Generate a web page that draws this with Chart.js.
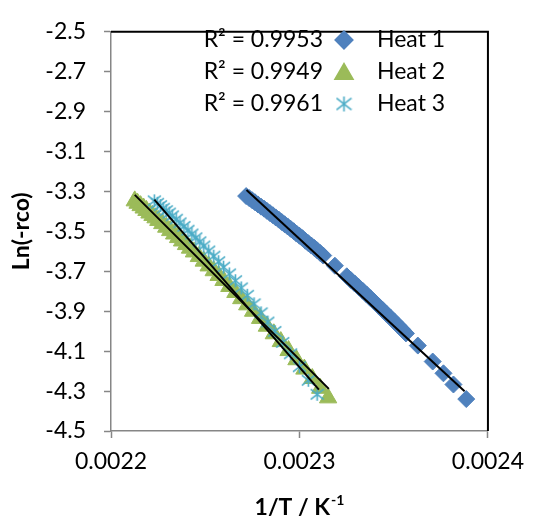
<!DOCTYPE html>
<html><head><meta charset="utf-8">
<script src="https://cdn.jsdelivr.net/npm/chart.js@4/dist/chart.umd.min.js"></script>
<style>html,body{margin:0;padding:0;background:#fff;}#wrap{width:534px;height:525px;}</style>
</head><body><div id="wrap"><canvas id="c" width="534" height="525"></canvas></div>
<script>
const seriesNames = ['Heat 1', 'Heat 2', 'Heat 3'];
const r2Labels = ['R\u00B2 = 0.9953', 'R\u00B2 = 0.9949', 'R\u00B2 = 0.9961'];
const seriesColors = ['#4F81BD', '#9BBB59', '#4BACC6'];
const xTitle = '1/T / K';
const xTitleSup = '-1';
const yTitle = 'Ln(-rco)';
const xTicks = [0.0022, 0.0023, 0.0024];
const yTicks = [-2.5, -2.7, -2.9, -3.1, -3.3, -3.5, -3.7, -3.9, -4.1, -4.3, -4.5];

const heat1X = [0.0022717,0.0022733,0.0022749,0.0022764,0.0022780,0.0022796,0.0022812,0.0022827,0.0022843,0.0022859,
  0.0022874,0.0022890,0.0022906,0.0022921,0.0022937,0.0022953,0.0022969,0.0022984,0.0023000,0.0023016,
  0.0023031,0.0023047,0.0023063,0.0023079,0.0023094,0.0023110,0.0023126,0.0023188,0.0023251,0.0023272,
  0.0023293,0.0023314,0.0023335,0.0023356,0.0023377,0.0023398,0.0023419,0.0023440,0.0023461,0.0023482,
  0.0023503,0.0023524,0.0023545,0.0023565,0.0023628,0.0023707,0.0023764,0.0023817,0.0023885];
const heat1Y = [-3.323,-3.333,-3.344,-3.354,-3.365,-3.376,-3.386,-3.397,-3.408,-3.419,
  -3.430,-3.441,-3.453,-3.464,-3.475,-3.487,-3.499,-3.511,-3.522,-3.534,
  -3.547,-3.559,-3.571,-3.583,-3.595,-3.608,-3.621,-3.672,-3.725,-3.743,
  -3.761,-3.779,-3.797,-3.816,-3.835,-3.854,-3.873,-3.892,-3.912,-3.931,
  -3.951,-3.971,-3.991,-4.011,-4.072,-4.152,-4.211,-4.267,-4.340];

const heat2X = [0.0022126,0.0022141,0.0022157,0.0022173,0.0022188,0.0022204,0.0022220,0.0022236,0.0022251,0.0022272,
  0.0022293,0.0022314,0.0022335,0.0022356,0.0022377,0.0022398,0.0022419,0.0022440,0.0022466,0.0022492,
  0.0022518,0.0022545,0.0022571,0.0022597,0.0022628,0.0022660,0.0022691,0.0022723,0.0022754,0.0022791,
  0.0022827,0.0022864,0.0022901,0.0022942,0.0022984,0.0023026,0.0023068,0.0023110,0.0023152];
const heat2Y = [-3.347,-3.359,-3.371,-3.383,-3.395,-3.408,-3.420,-3.432,-3.445,-3.461,
  -3.479,-3.496,-3.513,-3.531,-3.548,-3.566,-3.584,-3.603,-3.626,-3.649,
  -3.673,-3.697,-3.721,-3.746,-3.776,-3.806,-3.837,-3.868,-3.900,-3.936,
  -3.975,-4.013,-4.052,-4.097,-4.143,-4.190,-4.237,-4.286,-4.334];

const heat3X = [0.0022230,0.0022246,0.0022262,0.0022277,0.0022293,0.0022309,0.0022325,0.0022346,0.0022366,0.0022387,
  0.0022408,0.0022429,0.0022450,0.0022471,0.0022492,0.0022518,0.0022545,0.0022571,0.0022597,0.0022628,
  0.0022660,0.0022691,0.0022723,0.0022759,0.0022796,0.0022832,0.0022869,0.0022911,0.0022953,0.0023000,
  0.0023047,0.0023094];
const heat3Y = [-3.347,-3.359,-3.371,-3.384,-3.396,-3.408,-3.422,-3.439,-3.457,-3.475,
  -3.494,-3.513,-3.532,-3.552,-3.573,-3.598,-3.624,-3.652,-3.679,-3.713,
  -3.747,-3.783,-3.820,-3.863,-3.908,-3.954,-4.001,-4.056,-4.113,-4.178,
  -4.246,-4.316];

const trend1X = [0.0022719, 0.0023876]; const trend1Y = [-3.293, -4.301];
const trend2X = [0.0022126, 0.0023156]; const trend2Y = [-3.317, -4.289];
const trend3X = [0.0022230, 0.0023103]; const trend3Y = [-3.341, -4.293];

const FONT = 'Lato, "Open Sans", sans-serif';
const pts = (xs, ys) => xs.map((x, i) => ({x: x, y: ys[i]}));

function makeStar(color, size) {
  const c = document.createElement('canvas');
  c.width = size; c.height = size;
  const g = c.getContext('2d');
  g.strokeStyle = color; g.lineWidth = 1.6; g.lineCap = 'butt';
  const h = size / 2, r = size / 2 - 1;
  g.beginPath();
  g.moveTo(h, h - r); g.lineTo(h, h + r);
  g.moveTo(h - r, h - r * 0.78); g.lineTo(h + r, h + r * 0.78);
  g.moveTo(h + r, h - r * 0.78); g.lineTo(h - r, h + r * 0.78);
  g.stroke();
  return c;
}
const starImg = makeStar(seriesColors[2], 15);
const starLegend = makeStar(seriesColors[2], 17);
const markerStyles = [
  {pointStyle: 'rectRot', radius: 8.5},
  {pointStyle: 'triangle', radius: 10},
  {pointStyle: starImg, radius: 7}
];
const legendStyles = ['rectRot', 'triangle', starLegend];

const framePlugin = {
  id: 'frame',
  afterDraw(chart) {
    const ctx = chart.ctx, a = chart.chartArea;
    ctx.save();
    ctx.strokeStyle = '#000'; ctx.lineWidth = 2;
    ctx.beginPath();
    ctx.moveTo(a.left, a.top); ctx.lineTo(a.right, a.top); ctx.lineTo(a.right, a.bottom);
    ctx.stroke();
    ctx.font = '23px ' + FONT; ctx.fillStyle = '#000'; ctx.textBaseline = 'middle';
    const rows = [40, 72, 104];
    for (let i = 0; i < 3; i++) {
      const y = rows[i];
      ctx.textAlign = 'right';
      ctx.fillText(r2Labels[i], 323, y);
      ctx.fillStyle = seriesColors[i]; ctx.strokeStyle = seriesColors[i];
      Chart.helpers.drawPoint(ctx, {pointStyle: legendStyles[i], radius: markerStyles[i].radius, rotation: 0, borderWidth: 1}, 344, y + (i === 1 ? 2 : 0));
      ctx.fillStyle = '#000';
      ctx.textAlign = 'left';
      ctx.fillText(seriesNames[i], 377, y);
    }
    ctx.font = 'bold 23px ' + FONT;
    const w1 = ctx.measureText(xTitle).width;
    ctx.font = 'bold 14px ' + FONT;
    const w2 = ctx.measureText(xTitleSup).width;
    const cx = (a.left + a.right) / 2;
    const x0 = cx - (w1 + w2 + 1) / 2;
    ctx.textAlign = 'left'; ctx.textBaseline = 'alphabetic';
    ctx.font = 'bold 23px ' + FONT;
    ctx.fillText(xTitle, x0, 515);
    ctx.font = 'bold 14px ' + FONT;
    ctx.fillText(xTitleSup, x0 + w1 + 1, 505);
    ctx.restore();
  }
};

const scatterDs = (i, xs, ys, order) => ({
  label: seriesNames[i], data: pts(xs, ys), showLine: false,
  backgroundColor: seriesColors[i], borderColor: seriesColors[i], borderWidth: 1,
  pointStyle: markerStyles[i].pointStyle, pointRadius: markerStyles[i].radius,
  pointHoverRadius: markerStyles[i].radius, order: order
});
const trendDs = (xs, ys) => ({
  label: 'trend', data: pts(xs, ys), showLine: true, pointRadius: 0,
  borderColor: '#000', borderWidth: 2, order: 0
});

new Chart(document.getElementById('c'), {
  type: 'scatter',
  data: {
    datasets: [
      trendDs(trend1X, trend1Y), trendDs(trend2X, trend2Y), trendDs(trend3X, trend3Y),
      scatterDs(2, heat3X, heat3Y, 1), scatterDs(1, heat2X, heat2Y, 2), scatterDs(0, heat1X, heat1Y, 3)
    ]
  },
  options: {
    responsive: false, animation: false, devicePixelRatio: 1,
    layout: {padding: {left: 0, right: 41, top: 18, bottom: 0}},
    plugins: {legend: {display: false}, tooltip: {enabled: false}},
    scales: {
      x: {
        type: 'linear', min: 0.0022, max: 0.0024,
        afterBuildTicks: s => { s.ticks = xTicks.map(v => ({value: v})); },
        afterFit: s => { s.height = 94; },
        ticks: {font: {family: FONT, size: 23}, color: '#000', padding: 10, maxRotation: 0,
          callback: v => Number(v).toFixed(4)},
        grid: {drawOnChartArea: false, drawTicks: true, tickLength: 7, tickColor: '#868686', tickWidth: 1.5},
        border: {color: '#868686', width: 1.5},
        title: {display: false}
      },
      y: {
        type: 'linear', min: -4.5, max: -2.5,
        afterBuildTicks: s => { s.ticks = yTicks.map(v => ({value: v})); },
        afterFit: s => { s.width = 111; },
        ticks: {font: {family: FONT, size: 23}, color: '#000', padding: 18,
          callback: v => Number(v).toFixed(1)},
        grid: {drawOnChartArea: false, drawTicks: true, tickLength: 7, tickColor: '#868686', tickWidth: 1.5},
        border: {color: '#868686', width: 1.5},
        title: {display: true, text: yTitle, color: '#000', font: {family: FONT, size: 23, weight: 'bold'}, padding: {top: 8, bottom: 0}}
      }
    }
  },
  plugins: [framePlugin]
});
</script></body></html>
